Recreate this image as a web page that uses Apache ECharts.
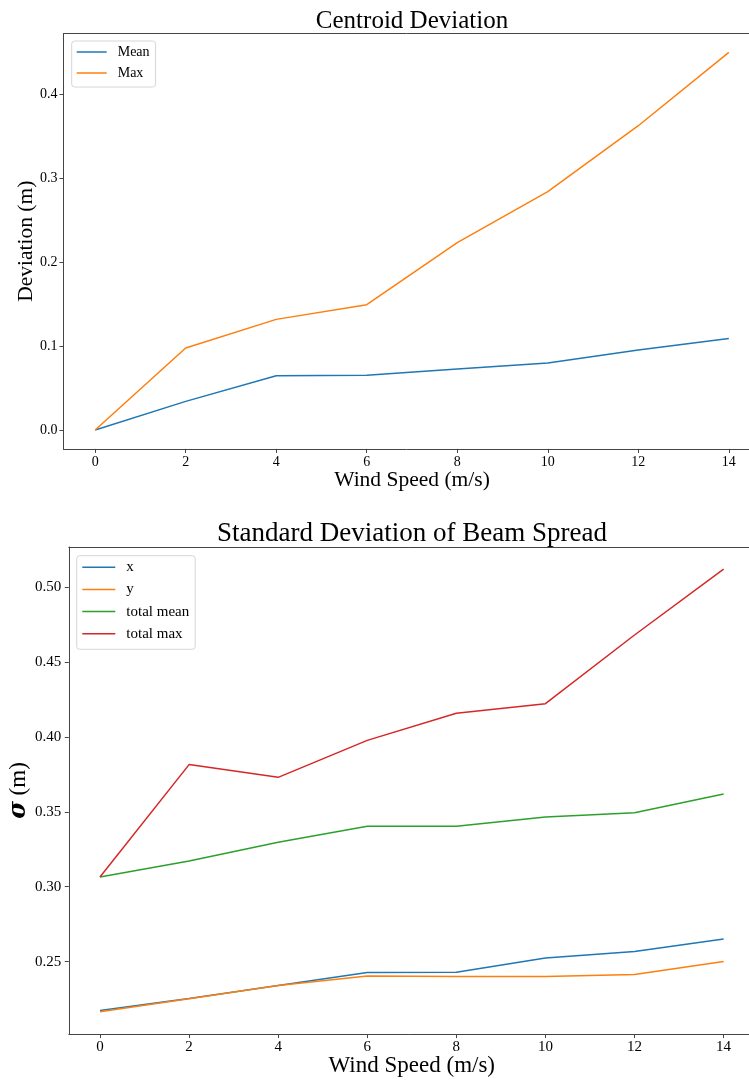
<!DOCTYPE html>
<html><head><meta charset="utf-8">
<script src="https://cdn.jsdelivr.net/npm/echarts@6/dist/echarts.min.js"></script>
<style>html,body{margin:0;padding:0;background:#fff}#c{width:749px;height:1080px}</style>
</head><body><div id="c"></div>
<script>
// ---- data ----
const windSpeed = [0, 2, 4, 6, 8, 10, 12, 14];
const xTicks = [0, 2, 4, 6, 8, 10, 12, 14];
const centroidMean = [0, 0.0342, 0.0648, 0.0652, 0.0728, 0.0799, 0.0954, 0.1093];
const centroidMax = [0, 0.0978, 0.1320, 0.1495, 0.2235, 0.2843, 0.3630, 0.4505];
const sigmaX = [0.2173, 0.2253, 0.2340, 0.2427, 0.2429, 0.2524, 0.2567, 0.2651];
const sigmaY = [0.2164, 0.2251, 0.2340, 0.2404, 0.2400, 0.2400, 0.2413, 0.2500];
const sigmaTotalMean = [0.3065, 0.3172, 0.3297, 0.3404, 0.3404, 0.3466, 0.3495, 0.3620];
const sigmaTotalMax = [0.3065, 0.3816, 0.3731, 0.3978, 0.4159, 0.4223, 0.4682, 0.5122];
const topYTicks = [0, 0.1, 0.2, 0.3, 0.4];
const botYTicks = [0.25, 0.30, 0.35, 0.40, 0.45, 0.50];

const FONT = 'Liberation Serif';
const C = ['#1f77b4', '#ff7f0e', '#2ca02c', '#d62728'];
const AX = '#444';

function padRange(arrs) {
  const all = [].concat(...arrs);
  const lo = Math.min(...all), hi = Math.max(...all);
  const r = hi - lo;
  return [lo - 0.05 * r, hi + 0.05 * r];
}
const xr = padRange([windSpeed]);
const yr1 = padRange([centroidMean, centroidMax]);
const yr2 = padRange([sigmaX, sigmaY, sigmaTotalMean, sigmaTotalMax]);
const pts = arr => windSpeed.map((x, i) => [x, arr[i]]);

function xAxis(gi, fs, margin, nameFs, nameGap) {
  return {
    gridIndex: gi, type: 'value', min: xr[0], max: xr[1], position: 'bottom',
    splitLine: { show: false },
    axisLine: { show: true, onZero: false, lineStyle: { color: AX, width: 1 } },
    axisTick: { show: true, length: 4, customValues: xTicks, lineStyle: { color: AX } },
    axisLabel: { customValues: xTicks, margin: margin, fontFamily: FONT, fontSize: fs, color: '#000' },
    name: 'Wind Speed (m/s)', nameLocation: 'middle', nameGap: nameGap, nameMoveOverlap: false,
    nameTextStyle: { fontFamily: FONT, fontSize: nameFs, color: '#000' }
  };
}
function topSpine(gi) {
  return {
    gridIndex: gi, type: 'value', min: xr[0], max: xr[1], position: 'top',
    splitLine: { show: false },
    axisLine: { show: true, onZero: false, lineStyle: { color: AX, width: 1 } },
    axisTick: { show: false }, axisLabel: { show: false }
  };
}
function yAxis(gi, r, ticks, dec, fs, margin) {
  return {
    gridIndex: gi, type: 'value', min: r[0], max: r[1],
    splitLine: { show: false },
    axisLine: { show: true, onZero: false, lineStyle: { color: AX, width: 1 } },
    axisTick: { show: true, length: 4, customValues: ticks, lineStyle: { color: AX } },
    axisLabel: { customValues: ticks, margin: margin, fontFamily: FONT, fontSize: fs, color: '#000',
      formatter: v => Number(v).toFixed(dec) }
  };
}
function line(name, data, color, xi) {
  return { name, type: 'line', xAxisIndex: xi, yAxisIndex: xi, data: pts(data),
    showSymbol: false, symbol: 'none', lineStyle: { color, width: 1.5 }, itemStyle: { color } };
}
function legend(left, top, data, fs, itemWidth, gap, padding) {
  return {
    left, top, orient: 'vertical', data, icon: 'rect', itemWidth, itemHeight: 1.5, itemGap: gap,
    padding, borderColor: '#d6d6d6', borderWidth: 1, borderRadius: 3, backgroundColor: 'rgba(255,255,255,0.8)',
    selectedMode: false,
    textStyle: { fontFamily: FONT, fontSize: fs, color: '#000', padding: [0, 0, 0, 6] }
  };
}

const y1 = yAxis(0, yr1, topYTicks, 1, 14, 6);
y1.name = 'Deviation (m)'; y1.nameLocation = 'middle'; y1.nameGap = 26; y1.nameMoveOverlap = false;
y1.nameTextStyle = { fontFamily: FONT, fontSize: 21.5, color: '#000' };
const y2 = yAxis(1, yr2, botYTicks, 2, 15, 7.5);
y2.name = '{s|σ} (m)'; y2.nameLocation = 'middle'; y2.nameGap = 38; y2.nameMoveOverlap = false;
y2.nameTextStyle = { fontFamily: FONT, fontSize: 23, color: '#000',
  rich: { s: { fontFamily: 'DejaVu Serif', fontStyle: 'italic', fontWeight: 'bold', fontSize: 24, color: '#000' } } };

const option = {
  animation: false,
  backgroundColor: '#fff',
  title: [
    { text: 'Centroid Deviation', left: 412, top: 9, textAlign: 'center', padding: 0,
      textStyle: { fontFamily: FONT, fontSize: 25, fontWeight: 'normal', color: '#000' } },
    { text: 'Standard Deviation of Beam Spread', left: 412, top: 520, textAlign: 'center', padding: 0,
      textStyle: { fontFamily: FONT, fontSize: 27, fontWeight: 'normal', color: '#000' } }
  ],
  grid: [
    { left: 63.5, top: 33.5, width: 697, height: 415.4, show: false, containLabel: false, outerBoundsMode: 'none' },
    { left: 68.8, top: 547, width: 686, height: 487, show: false, containLabel: false, outerBoundsMode: 'none' }
  ],
  legend: [
    legend(71.7, 41, ['Mean', 'Max'], 14, 30, 7, [4, 6, 7, 5]),
    legend(76.7, 555.7, ['x', 'y', 'total mean', 'total max'], 15, 33, 7.2, [4, 6, 8, 5.6])
  ],
  xAxis: [xAxis(0, 14, 6, 21.5, 20), xAxis(1, 15, 5.5, 23, 20.5), topSpine(0), topSpine(1)],
  yAxis: [y1, y2],
  series: [
    line('Mean', centroidMean, C[0], 0),
    line('Max', centroidMax, C[1], 0),
    line('x', sigmaX, C[0], 1),
    line('y', sigmaY, C[1], 1),
    line('total mean', sigmaTotalMean, C[2], 1),
    line('total max', sigmaTotalMax, C[3], 1)
  ]
};
const chart = echarts.init(document.getElementById('c'), null, { renderer: 'canvas' });
chart.setOption(option);
</script></body></html>
